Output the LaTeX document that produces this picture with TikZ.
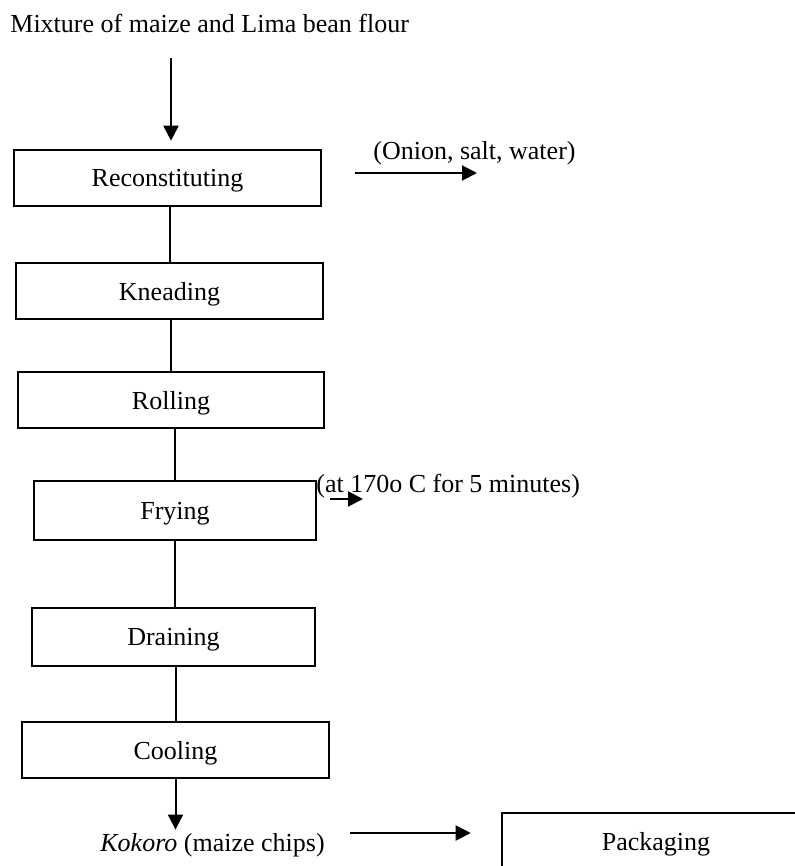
\documentclass[tikz,border=0pt]{standalone}
\usepackage{fontspec}
\setmainfont{Liberation Serif}
\usetikzlibrary{arrows.meta}
\begin{document}
\begin{tikzpicture}[x=0.5pt, y=-0.5pt,
        stage/.style={draw, line width=1.3pt, inner sep=0pt, text depth=0pt, minimum height=28pt, font=\fontsize{13}{15}\selectfont},
        lbl/.style={inner sep=0pt, font=\fontsize{13}{15}\selectfont},
        flow/.style={line width=1pt, -{Triangle[length=7.5pt, width=7.5pt]}},
        link/.style={line width=1pt}]
        \useasboundingbox (0,0) rectangle (795,866);
        \clip (0,0) rectangle (795,866);
        \node[lbl, anchor=base west] (flour) at (10,33) {Mixture of maize and Lima bean flour};
        \node[stage, minimum width=153.5pt] (recon) at (167.5,178) {Reconstituting};
        \node[stage, minimum width=153.5pt] (knead) at (169.5,291) {Kneading};
        \node[stage, minimum width=153pt] (roll) at (171,400) {Rolling};
        \node[stage, minimum width=141pt, minimum height=29.5pt] (fry) at (175,510.5) {Frying};
        \node[stage, minimum width=141.5pt, minimum height=29pt] (drain) at (173.5,637) {Draining};
        \node[stage, minimum width=153.5pt] (cool) at (175.5,750) {Cooling};
        \node[stage, minimum width=154pt] (pack) at (656,841) {Packaging};
        \node[lbl, anchor=base west] (additives) at (373,160) {(Onion, salt, water)};
        \node[lbl, anchor=base west] (fryinfo) at (316,492) {(at 170o C for 5 minutes)};
        \node[lbl, anchor=base west] (chips) at (100,851) {\textit{Kokoro} (maize chips)};
        \coordinate (feed) at (171,58);
        \coordinate (addA) at (355,173);
        \coordinate (addB) at (477,173);
        \coordinate (heatA) at (330,499);
        \coordinate (heatB) at (363,499);
        \coordinate (outA) at (350,833);
        \draw[flow, shorten >=4pt] (feed) -- (feed |- recon.north);
        \draw[flow] (addA) -- (addB);
        \draw[link] (knead.north |- recon.south) -- (knead.north);
        \draw[link] (roll.north |- knead.south) -- (roll.north);
        \draw[link] (fry.north |- roll.south) -- (fry.north);
        \draw[link] (fry.south) -- (fry.south |- drain.north);
        \draw[flow] (heatA) -- (heatB);
        \draw[link] (cool.north |- drain.south) -- (cool.north);
        \draw[flow, shorten >=1.5pt] (cool.south) -- (cool.south |- chips.north);
        \draw[flow, shorten >=15pt] (outA) -- (outA -| pack.west);
    \end{tikzpicture}
\end{document}
